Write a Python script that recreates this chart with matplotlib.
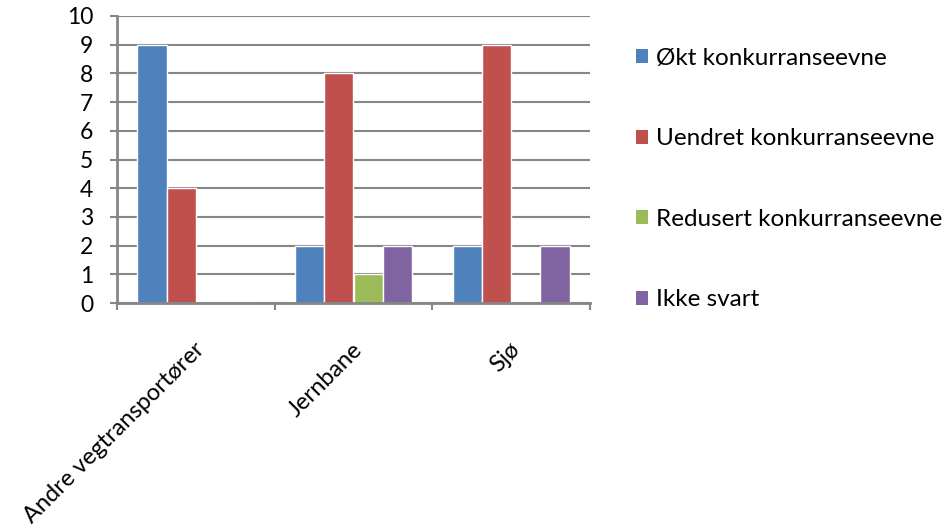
import numpy as np
import matplotlib
matplotlib.use("Agg")
import matplotlib.pyplot as plt
from matplotlib.patches import Patch

# data
categories = ["Andre vegtransportører", "Jernbane", "Sjø"]
series_names = ["Økt konkurranseevne", "Uendret konkurranseevne",
                "Redusert konkurranseevne", "Ikke svart"]
okt = [9, 2, 2]
uendret = [4, 8, 9]
redusert = [0, 1, 0]
ikke_svart = [0, 2, 2]
y_ticks = list(range(0, 11))

colors = ["#4F81BD", "#C0504D", "#9BBB59", "#8064A2"]
grid_col = "#868686"

plt.rcParams['font.family'] = ['Lato', 'DejaVu Sans']

fig = plt.figure(figsize=(9.44, 5.26), dpi=100)
ax = fig.add_axes([117 / 944, 1 - 303 / 526, (590 - 117) / 944, (303 - 16) / 526])

x = np.arange(len(categories))
w = 0.185
all_series = [okt, uendret, redusert, ikke_svart]
for i, (vals, col) in enumerate(zip(all_series, colors)):
    ax.bar(x + (i - 1.5) * w, vals, width=w, color=col,
           edgecolor="white", linewidth=1.0, zorder=3)

ax.set_xlim(-0.5, len(categories) - 0.5)
ax.set_ylim(0, 10)
ax.set_yticks(y_ticks)
ax.set_yticklabels([str(t) for t in y_ticks], fontsize=16.5)
ax.yaxis.grid(True, color=grid_col, linewidth=1.5, zorder=0)
ax.set_axisbelow(True)

for s in ["top", "right"]:
    ax.spines[s].set_visible(False)
for s in ["left", "bottom"]:
    ax.spines[s].set_color(grid_col)
    ax.spines[s].set_linewidth(2.0)
    ax.spines[s].set_zorder(4)

ax.tick_params(axis="y", direction="out", length=5, width=1.5,
               color=grid_col, pad=12)
# category boundary ticks on x axis
ax.set_xticks(np.arange(-0.5, len(categories)), minor=False)
ax.set_xticklabels([])
ax.tick_params(axis="x", direction="out", length=5, width=1.5, color=grid_col)

# rotated category labels, ending at the category centre
for xi, lab in zip(x, categories):
    ax.annotate(lab, xy=(xi, 0), xycoords="data",
                xytext=(5 * 0.72, -43 * 0.72), textcoords="offset points",
                rotation=45, rotation_mode="anchor", ha="right", va="center",
                fontsize=17, annotation_clip=False)

handles = [Patch(facecolor=c, edgecolor="none") for c in colors]
fig.legend(handles, series_names, loc="upper left",
           bbox_to_anchor=(626 / 944, 1 - 38 / 526), frameon=False,
           fontsize=17.5, handlelength=0.5, handleheight=0.5,
           handletextpad=0.35, labelspacing=2.45, borderaxespad=0)

fig.savefig("out.png", dpi=100)
